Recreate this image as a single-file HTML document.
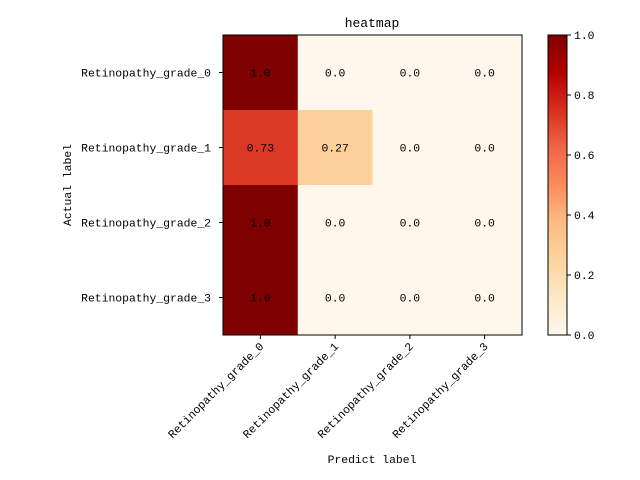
<!DOCTYPE html>
<html><head><meta charset="utf-8"><style>
body{margin:0;background:#fff}
svg{display:block;font-family:"Liberation Mono",monospace;font-size:11.4px}
</style></head><body>
<svg id="c" width="640" height="480">
<defs><linearGradient id="g" x1="0" y1="1" x2="0" y2="0">
<stop offset="0" stop-color="#fff7ec"/><stop offset="0.125" stop-color="#fee8c8"/><stop offset="0.25" stop-color="#fdd49e"/><stop offset="0.375" stop-color="#fdbb84"/><stop offset="0.5" stop-color="#fc8d59"/><stop offset="0.625" stop-color="#ef6548"/><stop offset="0.75" stop-color="#d7301f"/><stop offset="0.875" stop-color="#b30000"/><stop offset="1" stop-color="#7f0000"/>
</linearGradient></defs>
<text x="372" y="27" text-anchor="middle" font-size="13">heatmap</text>
<text x="372" y="463" text-anchor="middle">Predict label</text>
<text transform="translate(71,185) rotate(-90)" text-anchor="middle">Actual label</text>
<rect x="548" y="35" width="19" height="300" fill="url(#g)" stroke="#000" stroke-width="1"/>
</svg>
<script>
const xLabels=["Retinopathy_grade_0","Retinopathy_grade_1","Retinopathy_grade_2","Retinopathy_grade_3"];
const yLabels=["Retinopathy_grade_0","Retinopathy_grade_1","Retinopathy_grade_2","Retinopathy_grade_3"];
const row0=[1.0,0.0,0.0,0.0];
const row1=[0.73,0.27,0.0,0.0];
const row2=[1.0,0.0,0.0,0.0];
const row3=[1.0,0.0,0.0,0.0];
const labels0=["1.0","0.0","0.0","0.0"];
const labels1=["0.73","0.27","0.0","0.0"];
const labels2=["1.0","0.0","0.0","0.0"];
const labels3=["1.0","0.0","0.0","0.0"];
const cbTicks=[0,0.2,0.4,0.6,0.8,1.0];
const cbTickLabels=["0.0","0.2","0.4","0.6","0.8","1.0"];
const rows=[row0,row1,row2,row3], texts=[labels0,labels1,labels2,labels3];
const svg=document.getElementById('c'),NS="http://www.w3.org/2000/svg";
const X0=223,X1=522,Y0=35,Y1=335;
const cw=(X1-X0)/xLabels.length, ch=(Y1-Y0)/yLabels.length;
const xs=i=>X0+i*cw, ys=j=>Y0+j*ch, cy=v=>Y1-v*(Y1-Y0);
const stops=[[0,[255,247,236]],[0.125,[254,232,200]],[0.25,[253,212,158]],[0.375,[253,187,132]],[0.5,[252,141,89]],[0.625,[239,101,72]],[0.75,[215,48,31]],[0.875,[179,0,0]],[1,[127,0,0]]];
function cmap(v){for(let k=1;k<stops.length;k++){if(v<=stops[k][0]){const a=stops[k-1],b=stops[k],t=(v-a[0])/(b[0]-a[0]);return 'rgb('+a[1].map((c,i)=>Math.round(c+(b[1][i]-c)*t)).join(',')+')';}}return 'rgb(127,0,0)';}
function el(t,a,txt){const e=document.createElementNS(NS,t);for(const k in a)e.setAttribute(k,a[k]);if(txt!==undefined)e.textContent=txt;svg.appendChild(e);return e;}
rows.forEach((r,j)=>r.forEach((v,i)=>{
 const c=el('rect',{x:xs(i),y:ys(j),width:cw+0.5,height:ch+0.5,fill:cmap(v)});
 
 
}));
rows.forEach((r,j)=>r.forEach((v,i)=>{
 const t=el('text',{x:xs(i)+cw/2,y:ys(j)+ch/2+4,'text-anchor':'middle'},texts[j][i]);
 
 
}));
el('rect',{x:X0,y:Y0,width:X1-X0,height:Y1-Y0,fill:'none',stroke:'#000','stroke-width':1});
xLabels.forEach((l,i)=>{
 const x=xs(i)+cw/2;
 el('line',{x1:x,y1:Y1,x2:x,y2:Y1+4,stroke:'#000'});
 const t=el('text',{transform:`translate(${x+4},${Y1+12}) rotate(-45)`,'text-anchor':'end'},l);
 
 
});
yLabels.forEach((l,j)=>{
 const y=ys(j)+ch/2;
 el('line',{x1:X0-4,y1:y,x2:X0,y2:y,stroke:'#000'});
 const t=el('text',{x:X0-12,y:y+4,'text-anchor':'end'},l);
 
 
});
cbTicks.forEach((v,k)=>{
 const y=cy(v);
 el('line',{x1:567,y1:y,x2:571,y2:y,stroke:'#000'});
 const t=el('text',{x:574,y:y+4},cbTickLabels[k]);
 
 
});
</script>
</body></html>
